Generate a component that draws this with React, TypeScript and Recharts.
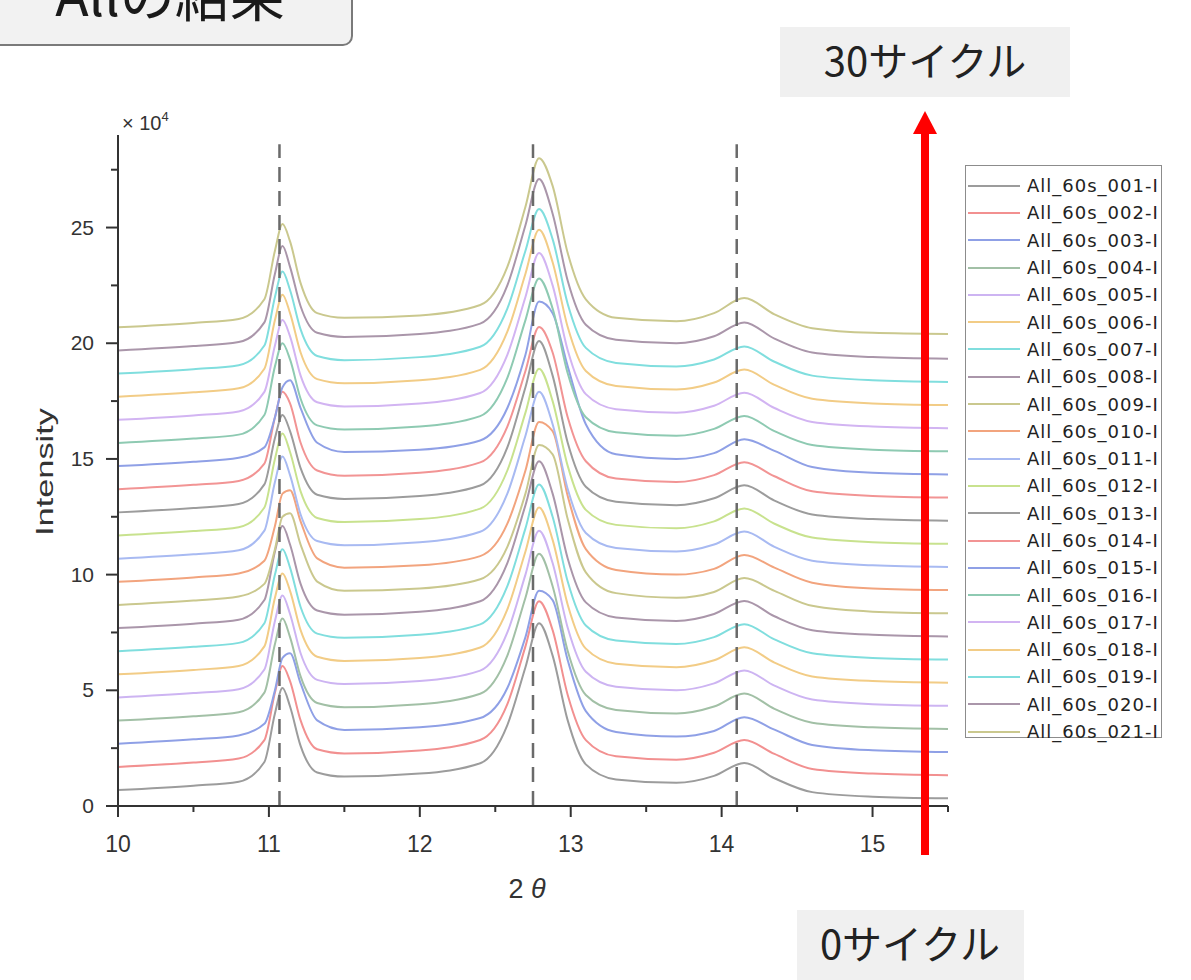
import React from "react";
import { LineChart, Line, XAxis, YAxis, ReferenceLine, Legend } from "recharts";

const TWO_THETA = [10.0, 10.5, 10.8, 10.97, 11.04, 11.09, 11.14, 11.21, 11.32, 11.5, 12.0, 12.4, 12.58, 12.7, 12.79, 12.88, 12.98, 13.1, 13.3, 13.7, 13.95, 14.15, 14.35, 14.6, 15.0, 15.5];

// intensity (x10^4), one array per scan
const s01 = [0.69, 0.88, 1.05, 1.9, 4.0, 5.1, 4.3, 2.6, 1.45, 1.27, 1.4, 1.85, 3.5, 6.0, 7.9, 6.5, 3.7, 1.8, 1.15, 1.0, 1.3, 1.86, 1.2, 0.6, 0.4, 0.33];
const s02 = [1.69, 1.88, 2.05, 2.85, 4.9, 6.05, 5.4, 3.7, 2.45, 2.27, 2.4, 2.85, 4.4, 6.9, 8.85, 7.6, 4.8, 2.85, 2.15, 2.0, 2.3, 2.85, 2.25, 1.6, 1.4, 1.33];
const s03 = [2.69, 2.88, 3.05, 3.55, 5.0, 6.4, 6.6, 5.3, 3.7, 3.29, 3.4, 3.8, 5.1, 7.3, 9.3, 8.9, 6.3, 4.1, 3.2, 3.0, 3.24, 3.84, 3.3, 2.64, 2.41, 2.33];
const s04 = [3.69, 3.88, 4.05, 4.9, 7.0, 8.1, 7.3, 5.6, 4.45, 4.27, 4.4, 4.85, 6.5, 9.0, 10.9, 9.5, 6.7, 4.8, 4.15, 4.0, 4.3, 4.86, 4.2, 3.6, 3.4, 3.33];
const s05 = [4.69, 4.88, 5.05, 5.9, 8.0, 9.1, 8.3, 6.6, 5.45, 5.27, 5.4, 5.85, 7.5, 10.0, 11.9, 10.5, 7.7, 5.8, 5.15, 5.0, 5.3, 5.86, 5.2, 4.6, 4.4, 4.33];
const s06 = [5.69, 5.88, 6.05, 6.9, 9.0, 10.05, 9.3, 7.6, 6.45, 6.27, 6.4, 6.85, 8.5, 11.0, 12.9, 11.5, 8.7, 6.8, 6.15, 6.0, 6.3, 6.86, 6.2, 5.6, 5.4, 5.33];
const s07 = [6.69, 6.88, 7.05, 7.9, 10.0, 11.1, 10.3, 8.6, 7.45, 7.27, 7.4, 7.85, 9.5, 12.0, 13.9, 12.5, 9.7, 7.8, 7.15, 7.0, 7.3, 7.86, 7.2, 6.6, 6.4, 6.33];
const s08 = [7.69, 7.88, 8.05, 8.9, 11.0, 12.1, 11.3, 9.6, 8.45, 8.27, 8.4, 8.85, 10.5, 13.0, 14.9, 13.5, 10.7, 8.8, 8.15, 8.0, 8.3, 8.86, 8.2, 7.6, 7.4, 7.33];
const s09 = [8.69, 8.88, 9.05, 9.6, 11.1, 12.5, 12.65, 11.3, 9.7, 9.3, 9.4, 9.8, 11.2, 13.5, 15.6, 15.2, 12.4, 10.1, 9.2, 9.0, 9.25, 9.85, 9.3, 8.65, 8.4, 8.33];
const s10 = [9.69, 9.88, 10.05, 10.6, 12.1, 13.5, 13.65, 12.3, 10.7, 10.3, 10.4, 10.8, 12.2, 14.5, 16.6, 16.2, 13.4, 11.1, 10.2, 10.0, 10.25, 10.85, 10.3, 9.65, 9.4, 9.33];
const s11 = [10.69, 10.88, 11.05, 11.9, 14.0, 15.1, 14.3, 12.6, 11.45, 11.27, 11.4, 11.85, 13.5, 16.0, 17.9, 16.5, 13.7, 11.8, 11.15, 11.0, 11.3, 11.86, 11.2, 10.6, 10.4, 10.33];
const s12 = [11.69, 11.88, 12.05, 12.9, 15.0, 16.1, 15.3, 13.6, 12.45, 12.27, 12.4, 12.85, 14.5, 17.0, 18.9, 17.5, 14.7, 12.8, 12.15, 12.0, 12.3, 12.86, 12.2, 11.6, 11.4, 11.33];
const s13 = [12.69, 12.88, 13.05, 13.9, 15.9, 16.9, 16.2, 14.6, 13.45, 13.27, 13.4, 13.85, 15.5, 18.1, 20.1, 18.6, 15.7, 13.8, 13.15, 13.0, 13.3, 13.86, 13.2, 12.6, 12.4, 12.33];
const s14 = [13.69, 13.88, 14.05, 14.8, 16.8, 17.9, 17.4, 15.7, 14.5, 14.27, 14.4, 14.85, 16.4, 18.8, 20.7, 19.6, 16.8, 14.9, 14.15, 14.0, 14.3, 14.86, 14.25, 13.6, 13.4, 13.33];
const s15 = [14.69, 14.88, 15.05, 15.5, 16.8, 18.1, 18.4, 17.2, 15.7, 15.3, 15.4, 15.8, 17.2, 19.5, 21.8, 21.3, 19.0, 16.5, 15.2, 15.0, 15.25, 15.85, 15.35, 14.65, 14.4, 14.33];
const s16 = [15.69, 15.88, 16.05, 16.9, 19.0, 20.0, 19.3, 17.6, 16.45, 16.27, 16.4, 16.85, 18.5, 21.0, 22.8, 21.5, 18.7, 16.8, 16.15, 16.0, 16.3, 16.86, 16.2, 15.6, 15.4, 15.33];
const s17 = [16.69, 16.88, 17.05, 17.9, 19.9, 21.0, 20.3, 18.6, 17.45, 17.27, 17.4, 17.85, 19.5, 22.0, 23.9, 22.5, 19.7, 17.8, 17.15, 17.0, 17.3, 17.86, 17.2, 16.6, 16.4, 16.33];
const s18 = [17.69, 17.88, 18.05, 18.9, 21.0, 22.1, 21.3, 19.6, 18.45, 18.27, 18.4, 18.85, 20.5, 23.0, 24.9, 23.5, 20.7, 18.8, 18.15, 18.0, 18.3, 18.86, 18.2, 17.6, 17.4, 17.33];
const s19 = [18.69, 18.88, 19.05, 19.9, 22.0, 23.1, 22.3, 20.6, 19.45, 19.27, 19.4, 19.85, 21.5, 24.0, 25.8, 24.5, 21.7, 19.8, 19.15, 19.0, 19.3, 19.86, 19.2, 18.6, 18.4, 18.33];
const s20 = [19.69, 19.88, 20.05, 20.9, 23.0, 24.2, 23.3, 21.6, 20.45, 20.27, 20.4, 20.85, 22.5, 25.1, 27.1, 25.6, 22.7, 20.8, 20.15, 20.0, 20.3, 20.9, 20.2, 19.6, 19.4, 19.33];
const s21 = [20.69, 20.88, 21.05, 21.9, 24.0, 25.15, 24.4, 22.6, 21.3, 21.1, 21.2, 21.65, 23.3, 25.9, 28.0, 26.8, 23.9, 21.9, 21.1, 20.95, 21.3, 21.95, 21.25, 20.65, 20.45, 20.4];

const SERIES = [s01, s02, s03, s04, s05, s06, s07, s08, s09, s10, s11, s12, s13, s14, s15, s16, s17, s18, s19, s20, s21];

const NAMES = [
  "All_60s_001-I", "All_60s_002-I", "All_60s_003-I", "All_60s_004-I", "All_60s_005-I",
  "All_60s_006-I", "All_60s_007-I", "All_60s_008-I", "All_60s_009-I", "All_60s_010-I",
  "All_60s_011-I", "All_60s_012-I", "All_60s_013-I", "All_60s_014-I", "All_60s_015-I",
  "All_60s_016-I", "All_60s_017-I", "All_60s_018-I", "All_60s_019-I", "All_60s_020-I",
  "All_60s_021-I",
];

// washed-out Origin palette
const COLORS = [
  "#9c9c9c", "#f29090", "#8fa0e6", "#a2c0a6", "#cdb4f2", "#f2cc86", "#80dede",
  "#aa96aa", "#cac88e", "#f2a47e", "#a8baf2", "#c8e28e", "#9c9c9c", "#f29494",
  "#8fa0e6", "#8ecab2", "#d2b4f2", "#f2cc86", "#80dede", "#aa96aa", "#cac88e",
];

const PEAK_MARKS = [11.07, 12.75, 14.1];
const X_TICKS = [10, 10.5, 11, 11.5, 12, 12.5, 13, 13.5, 14, 14.5, 15, 15.5];
const Y_TICKS = [0, 2.5, 5, 7.5, 10, 12.5, 15, 17.5, 20, 22.5, 25, 27.5];

const rows = TWO_THETA.map((x, k) => {
  const r: Record<string, number> = { x };
  SERIES.forEach((s, i) => {
    r[NAMES[i]] = s[k];
  });
  return r;
});

const AXIS = "#333";
const SANS = "'Liberation Sans', Arial, sans-serif";
const JP = "'Noto Sans CJK JP', 'Noto Sans', sans-serif";

function XTick({ x, y, payload }: any) {
  const major = Number.isInteger(payload.value);
  return (
    <g>
      <line x1={x} x2={x} y1={y} y2={y + (major ? 11 : 6)} stroke={AXIS} strokeWidth={2} />
      {major && (
        <text x={x} y={y + 46} textAnchor="middle" fontSize={23} fill={AXIS} fontFamily={SANS}>
          {payload.value}
        </text>
      )}
    </g>
  );
}

function YTick({ x, y, payload }: any) {
  const major = payload.value % 5 === 0;
  return (
    <g>
      <line x1={x} x2={x - (major ? 12 : 7)} y1={y} y2={y} stroke={AXIS} strokeWidth={2} />
      {major && (
        <text x={x - 24} y={y + 7} textAnchor="end" fontSize={21} fill={AXIS} fontFamily={SANS}>
          {payload.value}
        </text>
      )}
    </g>
  );
}

function LegendBox({ payload }: any) {
  return (
    <div
      style={{
        width: 197,
        height: 573,
        boxSizing: "border-box",
        border: "1px solid #8c8c8c",
        background: "#fff",
        paddingTop: 6,
      }}
    >
      {(payload || []).map((p: any) => (
        <div key={p.value} style={{ height: 27.3, display: "flex", alignItems: "center" }}>
          <div style={{ width: 52, height: 2, marginLeft: 2, background: p.color }} />
          <span
            style={{
              marginLeft: 7,
              fontSize: 18,
              letterSpacing: 1,
              color: "#222",
              fontFamily: "'DejaVu Sans', sans-serif",
              whiteSpace: "nowrap",
            }}
          >
            {p.value}
          </span>
        </div>
      ))}
    </div>
  );
}

export default function App() {
  return (
    <div style={{ position: "absolute", left: 0, top: 0, width: 1191, height: 980, background: "#fff", overflow: "hidden" }}>
      <LineChart
        width={1191}
        height={980}
        data={rows}
        margin={{ top: 135, right: 243, bottom: 173, left: 117 }}
      >
        <XAxis
          dataKey="x"
          type="number"
          domain={[10, 15.5]}
          ticks={X_TICKS}
          interval={0}
          height={1}
          tickSize={0}
          tickMargin={0}
          tickLine={false}
          axisLine={{ stroke: AXIS, strokeWidth: 2 }}
          tick={<XTick />}
          allowDataOverflow
        />
        <YAxis
          type="number"
          domain={[0, 29]}
          ticks={Y_TICKS}
          interval={0}
          width={1}
          tickSize={0}
          tickMargin={0}
          tickLine={false}
          axisLine={{ stroke: AXIS, strokeWidth: 2 }}
          tick={<YTick />}
          allowDataOverflow
        />
        {NAMES.map((name, i) => (
          <Line
            key={name}
            type="monotone"
            dataKey={name}
            name={name}
            stroke={COLORS[i]}
            strokeWidth={2}
            dot={false}
            activeDot={false}
            isAnimationActive={false}
          />
        ))}
        {PEAK_MARKS.map((p) => (
          <ReferenceLine
            key={p}
            segment={[{ x: p, y: 0 }, { x: p, y: 28.6 }]}
            stroke="#6a6a6a"
            strokeWidth={2.5}
            strokeDasharray="15 9"
          />
        ))}
        <Legend
          layout="vertical"
          align="center"
          verticalAlign="middle"
          content={<LegendBox />}
          wrapperStyle={{ left: 965, top: 165, width: 197, height: 573 }}
        />
      </LineChart>

      <svg
        width={1191}
        height={980}
        style={{ position: "absolute", left: 0, top: 0, pointerEvents: "none" }}
      >
        {/* title box, cut by the top edge */}
        <rect x={-10} y={-60} width={362} height={105} rx={9} fill="#f2f2f2" stroke="#7a7a7a" strokeWidth={2} />
        <text x={170} y={16} textAnchor="middle" fontSize={55} fill="#1a1a1a" fontFamily={JP}>
          Allの結果
        </text>

        <rect x={780} y={27} width={290} height={70} fill="#f0f0f0" />
        <text x={925} y={76} textAnchor="middle" fontSize={40} fill="#222" fontFamily={JP}>
          30サイクル
        </text>

        <rect x={797} y={910} width={227} height={70} fill="#f0f0f0" />
        <text x={910} y={959} textAnchor="middle" fontSize={40} fill="#222" fontFamily={JP}>
          0サイクル
        </text>

        {/* axis titles */}
        <text
          x={53}
          y={472}
          transform="rotate(-90 53 472)"
          textAnchor="middle"
          fontSize={24}
          textLength={128}
          lengthAdjust="spacingAndGlyphs"
          fill={AXIS}
          fontFamily={SANS}
        >
          Intensity
        </text>
        <text x={527} y={898} textAnchor="middle" fontSize={27} fill={AXIS} fontFamily={SANS}>
          2 <tspan fontStyle="italic">θ</tspan>
        </text>
        <text x={122} y={130} fontSize={20} fill={AXIS} fontFamily={SANS}>
          × 10<tspan fontSize={13} dy={-9}>4</tspan>
        </text>

        {/* cycle arrow */}
        <line x1={925} y1={855} x2={925} y2={128} stroke="#ff0000" strokeWidth={8} />
        <polygon points="925,111 913,134 937,134" fill="#ff0000" />
      </svg>
    </div>
  );
}
